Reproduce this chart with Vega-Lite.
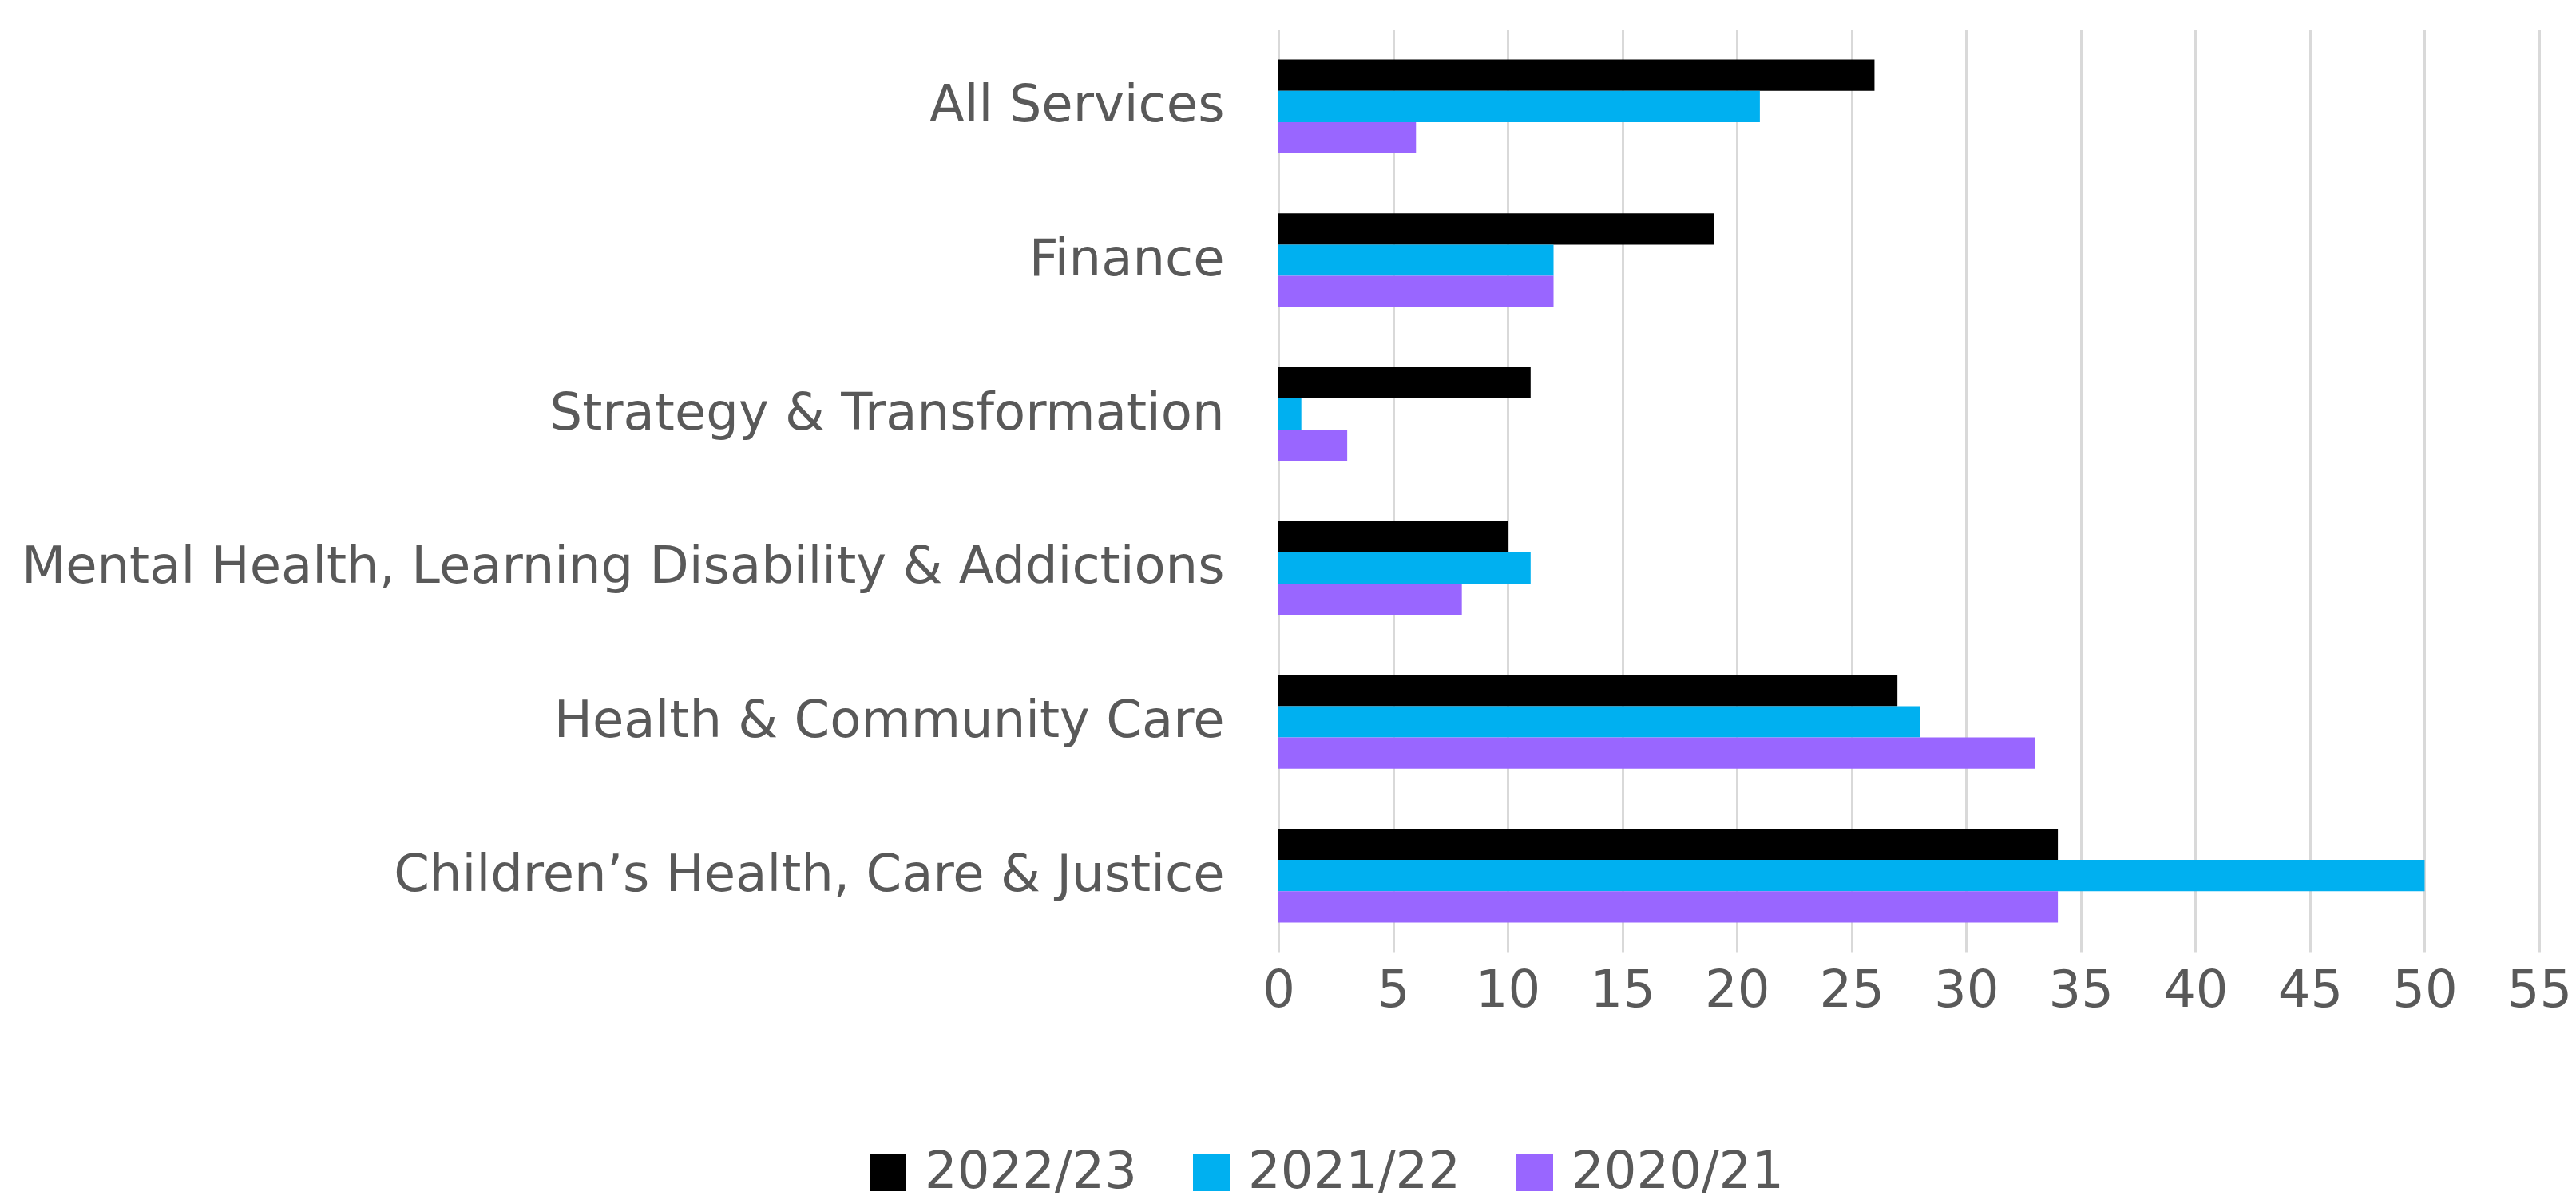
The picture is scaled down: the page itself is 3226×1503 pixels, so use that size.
{
  "$schema": "https://vega.github.io/schema/vega-lite/v6.json",
  "autosize": {"type": "none"},
  "padding": {"left": 1601, "top": 37, "right": 46, "bottom": 310},
  "width": 1579,
  "height": 1156,
  "background": "white",
  "config": {
    "view": {"stroke": null},
    "font": "DejaVu Sans"
  },
  "data": {
    "values": [
      {"service": "All Services", "year": "2022/23", "value": 26},
      {"service": "All Services", "year": "2021/22", "value": 21},
      {"service": "All Services", "year": "2020/21", "value": 6},
      {"service": "Finance", "year": "2022/23", "value": 19},
      {"service": "Finance", "year": "2021/22", "value": 12},
      {"service": "Finance", "year": "2020/21", "value": 12},
      {"service": "Strategy & Transformation", "year": "2022/23", "value": 11},
      {"service": "Strategy & Transformation", "year": "2021/22", "value": 1},
      {"service": "Strategy & Transformation", "year": "2020/21", "value": 3},
      {"service": "Mental Health, Learning Disability & Addictions", "year": "2022/23", "value": 10},
      {"service": "Mental Health, Learning Disability & Addictions", "year": "2021/22", "value": 11},
      {"service": "Mental Health, Learning Disability & Addictions", "year": "2020/21", "value": 8},
      {"service": "Health & Community Care", "year": "2022/23", "value": 27},
      {"service": "Health & Community Care", "year": "2021/22", "value": 28},
      {"service": "Health & Community Care", "year": "2020/21", "value": 33},
      {"service": "Children’s Health, Care & Justice", "year": "2022/23", "value": 34},
      {"service": "Children’s Health, Care & Justice", "year": "2021/22", "value": 50},
      {"service": "Children’s Health, Care & Justice", "year": "2020/21", "value": 34}
    ]
  },
  "mark": {"type": "bar"},
  "encoding": {
    "y": {
      "field": "service",
      "type": "nominal",
      "sort": ["All Services", "Finance", "Strategy & Transformation", "Mental Health, Learning Disability & Addictions", "Health & Community Care", "Children’s Health, Care & Justice"],
      "scale": {"paddingInner": 0.39, "paddingOuter": 0.195},
      "axis": {
        "title": null,
        "domain": false,
        "ticks": false,
        "labelFontSize": 64,
        "labelColor": "#595959",
        "labelPadding": 68,
        "labelLimit": 2000
      }
    },
    "yOffset": {
      "field": "year",
      "type": "nominal",
      "sort": ["2022/23", "2021/22", "2020/21"]
    },
    "x": {
      "field": "value",
      "type": "quantitative",
      "scale": {"domain": [0, 55], "nice": false},
      "axis": {
        "title": null,
        "values": [0, 5, 10, 15, 20, 25, 30, 35, 40, 45, 50, 55],
        "domain": false,
        "ticks": false,
        "grid": true,
        "gridColor": "#d9d9d9",
        "gridWidth": 3,
        "labelFontSize": 64,
        "labelColor": "#595959",
        "labelPadding": 16,
        "labelFlush": false
      }
    },
    "color": {
      "field": "year",
      "type": "nominal",
      "sort": ["2022/23", "2021/22", "2020/21"],
      "scale": {"domain": ["2022/23", "2021/22", "2020/21"], "range": ["#000000", "#00B0F0", "#9966FF"]},
      "legend": {
        "title": null,
        "orient": "none",
        "direction": "horizontal",
        "legendX": -521,
        "legendY": 1400,
        "symbolType": "square",
        "symbolSize": 2116,
        "symbolStrokeWidth": 0,
        "labelFontSize": 64,
        "labelColor": "#595959",
        "labelOffset": 14,
        "labelLimit": 600,
        "columnPadding": 61,
        "padding": 0
      }
    }
  }
}
